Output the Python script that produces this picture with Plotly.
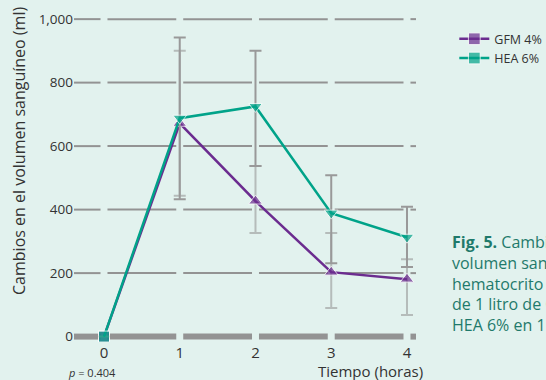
import plotly.graph_objects as go

# ---- data ----
times = [0, 1, 2, 3, 4]
time_labels = ["0", "1", "2", "3", "4"]

gfm_name = "GFM 4%"
gfm_values = [0, 672, 427, 203, 181]
gfm_err_plus = [0, 228, 110, 123, 63]
gfm_err_minus = [0, 228, 101, 113, 113]

hea_name = "HEA 6%"
hea_values = [0, 688, 725, 389, 313]
hea_err_plus = [0, 254, 175, 119, 96]
hea_err_minus = [0, 255, 188, 158, 94]

y_ticks = [0, 200, 400, 600, 800, 1000]

# ---- styles ----
BG = "#e2f2ee"
PURPLE = "#6b2c8f"
TEAL = "#00a389"
GRID = "#939393"
FONT = "Open Sans"
TXT = "#333333"

fig = go.Figure()

fig.add_trace(go.Scatter(
    x=times, y=gfm_values, name=gfm_name, mode="lines+markers",
    line=dict(color=PURPLE, width=2.5),
    marker=dict(color=PURPLE, size=[11, 12, 12, 12, 12],
                symbol=["square", "triangle-up", "triangle-up", "triangle-up", "triangle-up"]),
    error_y=dict(type="data", symmetric=False, array=gfm_err_plus, arrayminus=gfm_err_minus,
                 color="#b5bcba", thickness=2, width=6),
))
fig.add_trace(go.Scatter(
    x=times, y=hea_values, name=hea_name, mode="lines+markers",
    line=dict(color=TEAL, width=2.5),
    marker=dict(color=TEAL, size=[11, 12, 12, 12, 12],
                symbol=["square", "triangle-down", "triangle-down", "triangle-down", "triangle-down"]),
    error_y=dict(type="data", symmetric=False, array=hea_err_plus, arrayminus=hea_err_minus,
                 color="#999999", thickness=2, width=6),
))

# dashed-looking grid: segments between category positions
x_lo, x_hi = -0.396, 4.119
gap = 0.046
edges = [x_lo] + [v for t in times for v in (t - gap, t + gap)] + [x_hi]
shapes = []
for yv in y_ticks:
    w = 6 if yv == 0 else 2
    for i in range(0, len(edges), 2):
        shapes.append(dict(type="line", xref="x", yref="y", x0=edges[i], x1=edges[i + 1],
                           y0=yv, y1=yv, line=dict(color=GRID, width=w), layer="below"))

fig.update_layout(
    width=546, height=380,
    margin=dict(l=74, r=130, t=15, b=38, autoexpand=False),
    paper_bgcolor=BG, plot_bgcolor=BG,
    font=dict(family=FONT, color=TXT),
    shapes=shapes,
    showlegend=True,
    legend=dict(x=1.112, y=0.972, xanchor="left", yanchor="top",
                bgcolor="rgba(0,0,0,0)", font=dict(size=12.5, color=TXT),
                tracegroupgap=0),
    xaxis=dict(range=[x_lo, x_hi], tickvals=times, ticktext=time_labels,
               showgrid=False, zeroline=False, showline=False, ticks="",
               tickfont=dict(size=15, color=TXT)),
    yaxis=dict(range=[-17, 1013], tickvals=y_ticks, tickformat=",",
               showgrid=False, zeroline=False, showline=False, ticks="",
               tickfont=dict(size=13.5, color=TXT)),
    annotations=[
        dict(text="Cambios en el volumen sanguíneo (ml)", textangle=-90,
             xref="paper", yref="paper", x=-0.161, y=0.584, xanchor="center", yanchor="middle",
             showarrow=False, font=dict(size=16, color=TXT)),
        dict(text="Tiempo (horas)", xref="paper", yref="paper", x=1.026, y=-0.088,
             xanchor="right", yanchor="middle", showarrow=False, font=dict(size=15, color=TXT)),
        dict(text="<i>p</i> = 0.404", xref="paper", yref="paper", x=-0.023, y=-0.092,
             xanchor="left", yanchor="middle", showarrow=False, font=dict(size=11, color=TXT)),
        dict(text="<b>Fig. 5.</b> Cambios en el<br>volumen sanguíneo según el<br>hematocrito tras la infusión<br>de 1 litro de GFM 4% o de<br>HEA 6% en 1 hora",
             xref="paper", yref="paper", x=1.1, y=0.18, xanchor="left", yanchor="middle",
             align="left", showarrow=False, font=dict(size=16, color="#1f7a6b")),
    ],
)

fig.write_html("out.html", config={"displayModeBar": False},
               post_script="document.body.style.margin='0';document.body.style.overflow='hidden';")
